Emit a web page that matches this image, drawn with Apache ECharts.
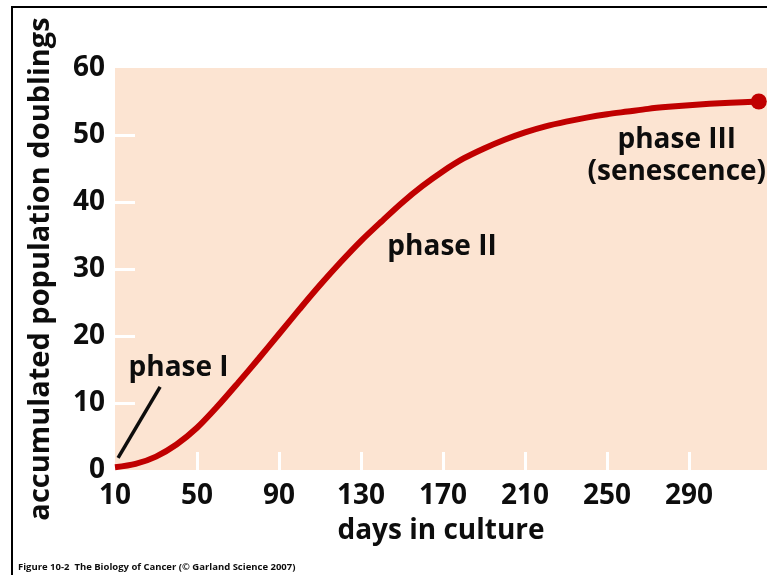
<!DOCTYPE html>
<html>
<head>
<meta charset="utf-8">
<script src="https://cdn.jsdelivr.net/npm/echarts@6/dist/echarts.min.js"></script>
<style>
  html, body { margin: 0; padding: 0; background: #ffffff; }
  #chart { width: 767px; height: 575px; }
</style>
</head>
<body>
<div id="chart"></div>
<script>
// Accumulated population doublings of cultured cells over time
const days = [10, 20, 30, 40, 50, 60, 70, 80, 90, 100, 110, 120, 130, 140, 150, 160,
              170, 180, 190, 200, 210, 220, 230, 240, 250, 260, 270, 280, 290, 300, 310, 324];
const doublings = [0.4, 0.9, 2.0, 3.8, 6.3, 9.5, 13.0, 16.6, 20.3, 24.0, 27.6, 31.0, 34.2, 37.1, 39.9, 42.4,
                   44.6, 46.5, 48.0, 49.3, 50.4, 51.3, 52.0, 52.6, 53.1, 53.5, 53.9, 54.2, 54.45, 54.65, 54.8, 55.0];

const xTickLabels = [10, 50, 90, 130, 170, 210, 250, 290];
const yTickLabels = [0, 10, 20, 30, 40, 50, 60];

// Phase annotations, in data coordinates [day, doublings]
const phaseLabels = [
  { text: 'phase I', at: [41, 15.2] },
  { text: 'phase II', at: [169.5, 33.3] },
  { text: 'phase III\n(senescence)', at: [284, 46.9] }
];
// Pointer from the "phase I" label down to the start of the curve
const pointerLine = [[11.5, 1.8], [32, 12.4]];

const FONT = '"Open Sans"';
const INK = '#0d0d0d';
const lineColor = '#c00000';

const chart = echarts.init(document.getElementById('chart'), null, { renderer: 'canvas' });

const curve = days.map((d, i) => [d, doublings[i]]);
const lastPoint = curve[curve.length - 1];

const bigText = { color: INK, fontSize: 28, fontWeight: 'bold', fontFamily: FONT };

chart.setOption({
  animation: false,
  backgroundColor: '#ffffff',
  textStyle: { fontFamily: FONT },
  grid: {
    left: 115, right: 0, top: 68, bottom: 105,
    show: true, backgroundColor: '#fce4d2', borderWidth: 0
  },
  xAxis: {
    type: 'value',
    min: 10, max: 328,
    name: 'days in culture',
    nameLocation: 'middle',
    nameGap: 47,
    nameTextStyle: bigText,
    axisLine: { show: false },
    splitLine: { show: false },
    axisTick: {
      show: true, inside: true, length: 18,
      customValues: xTickLabels.slice(1),
      lineStyle: { color: '#ffffff', width: 3 }
    },
    axisLabel: Object.assign({ customValues: xTickLabels, margin: 12 }, bigText)
  },
  yAxis: {
    type: 'value',
    min: 0, max: 60, interval: 10,
    name: 'accumulated population doublings',
    nameLocation: 'middle',
    nameGap: 60,
    nameTextStyle: Object.assign({}, bigText, { fontSize: 29 }),
    axisLine: { show: false },
    splitLine: { show: false },
    axisTick: {
      show: true, inside: true, length: 20,
      customValues: yTickLabels.slice(1, -1),
      lineStyle: { color: '#ffffff', width: 3 }
    },
    axisLabel: Object.assign({ customValues: yTickLabels, margin: 10 }, bigText)
  },
  series: [
    {
      type: 'line',
      data: curve,
      smooth: 0.3,
      showSymbol: false,
      lineStyle: { color: lineColor, width: 6 },
      z: 3
    },
    {
      type: 'scatter',
      data: [lastPoint],
      symbol: 'circle',
      symbolSize: 16,
      itemStyle: { color: lineColor, opacity: 1 },
      z: 4
    },
    {
      type: 'line',
      data: pointerLine,
      showSymbol: false,
      lineStyle: { color: INK, width: 3.5 },
      z: 2
    },
    {
      type: 'scatter',
      data: phaseLabels.map(p => ({ value: p.at, name: p.text })),
      symbolSize: 0,
      itemStyle: { opacity: 1 },
      label: Object.assign({
        show: true,
        position: 'inside',
        formatter: p => p.name,
        lineHeight: 32,
        align: 'center',
        verticalAlign: 'middle',
        opacity: 1,
        textBorderWidth: 0
      }, bigText),
      z: 5
    }
  ],
  graphic: [
    {
      type: 'rect',
      shape: { x: 12, y: 7, width: 800, height: 600 },
      style: { fill: 'none', stroke: '#000', lineWidth: 2 },
      silent: true
    },
    {
      type: 'text',
      left: 18, top: 562,
      style: {
        text: 'Figure 10-2  The Biology of Cancer (\u00a9 Garland Science 2007)',
        fill: INK, font: 'bold 9.5px ' + FONT
      }
    }
  ]
});
</script>
</body>
</html>
